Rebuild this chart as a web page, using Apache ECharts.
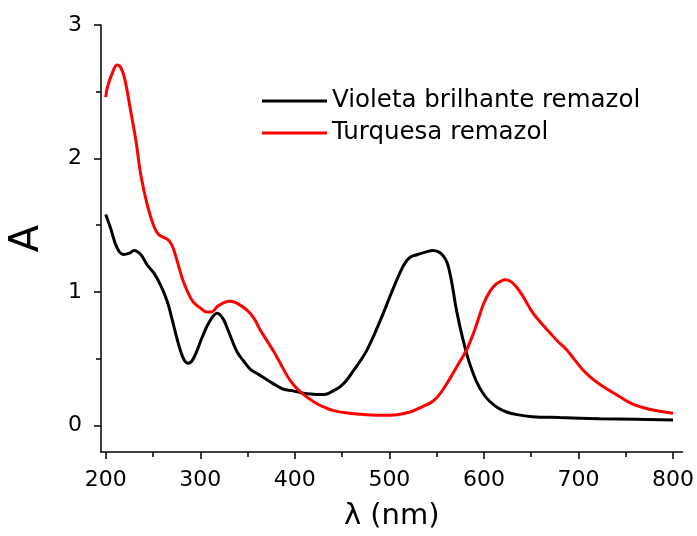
<!DOCTYPE html>
<html><head><meta charset="utf-8">
<script src="https://cdn.jsdelivr.net/npm/echarts@6/dist/echarts.min.js"></script>
<style>html,body{margin:0;padding:0;background:#fff}#c{width:697px;height:536px}</style>
</head><body><div id="c"></div>
<script>
const seriesNames = ['Violeta brilhante remazol', 'Turquesa remazol'];
const violetaX = [200,205,212,219,225,230,237,244,251,258,265,270,275,279,283,287,291,296,302,310,318,324,329,334,339,346,353,362,371,380,388,397,406,416,427,434,441,448,455,462,469,476,484,493,502,511,516,522,530,539,546,552,557,561,564,567,570,574,578,582,587,592,599,606,615,624,635,651,680,722,760,800];
const violetaY = [1.58,1.48,1.33,1.28,1.29,1.31,1.28,1.20,1.14,1.05,0.93,0.80,0.66,0.56,0.49,0.465,0.48,0.55,0.66,0.78,0.84,0.80,0.72,0.63,0.55,0.48,0.42,0.38,0.34,0.30,0.27,0.26,0.245,0.235,0.23,0.235,0.26,0.29,0.34,0.41,0.48,0.56,0.68,0.83,0.99,1.14,1.21,1.26,1.28,1.30,1.31,1.30,1.27,1.22,1.14,1.03,0.90,0.76,0.64,0.53,0.42,0.33,0.24,0.18,0.13,0.10,0.08,0.065,0.058,0.05,0.045,0.04];
const turquesaX = [200,202,207,212,216,220,226,232,237,244,251,256,261,266,270,274,278,282,288,293,300,307,312,318,325,332,340,350,357,363,370,378,385,392,399,406,415,424,433,441,458,475,493,508,522,535,546,555,564,573,582,591,599,606,613,618,622,628,634,641,651,660,669,678,687,695,704,713,722,740,757,775,800];
const turquesaY = [2.46,2.54,2.64,2.70,2.68,2.60,2.37,2.13,1.88,1.65,1.49,1.43,1.41,1.39,1.35,1.27,1.17,1.08,0.98,0.92,0.88,0.85,0.85,0.89,0.92,0.93,0.91,0.86,0.80,0.72,0.64,0.55,0.46,0.37,0.30,0.25,0.20,0.16,0.13,0.11,0.09,0.08,0.075,0.08,0.10,0.14,0.18,0.25,0.35,0.46,0.57,0.73,0.90,1.00,1.06,1.08,1.09,1.08,1.04,0.97,0.85,0.77,0.70,0.63,0.57,0.50,0.42,0.36,0.31,0.23,0.16,0.12,0.09];
const xTicks = [200,300,400,500,600,700,800];
const xMinorTicks = [250,350,450,550,650,750];
const yTicks = [0,1,2,3];
const yMinorTicks = [0.5,1.5,2.5];

const FONT = 'DejaVu Sans';
const chart = echarts.init(document.getElementById('c'), null, {renderer:'canvas'});
const zip = (xs, ys) => xs.map((x,i)=>[x, ys[i]]);
const axisLineStyle = {show:true, onZero:false, lineStyle:{color:'#000', width:1.5}};
chart.setOption({
  animation:false,
  backgroundColor:'#fff',
  grid:{left:100, right:13, top:25, bottom:83, containLabel:false},
  legend:{
    orient:'vertical', left:257, top:82, itemGap:4, itemWidth:65, itemHeight:3,
    icon:'rect',
    textStyle:{fontFamily:FONT, fontSize:24.5, color:'#000', padding:[0,0,0,0], lineHeight:28},
    data:seriesNames
  },
  xAxis:[{
    type:'value', min:195, max:810,
    name:'λ (nm)', nameLocation:'middle', nameGap:50,
    nameTextStyle:{fontFamily:FONT, fontSize:29, color:'#000'},
    axisLine:axisLineStyle,
    axisTick:{show:true, inside:false, length:7, lineStyle:{color:'#000', width:1.5}, customValues:xTicks},
    axisLabel:{show:true, margin:17, fontFamily:FONT, fontSize:22, color:'#000', customValues:xTicks},
    splitLine:{show:false}
  },{
    type:'value', min:195, max:810, position:'bottom',
    axisLine:{show:false, onZero:false},
    axisTick:{show:true, length:5, lineStyle:{color:'#000', width:1.5}, customValues:xMinorTicks},
    axisLabel:{show:false}, splitLine:{show:false}
  }],
  yAxis:[{
    type:'value', min:-0.2, max:3,
    name:'A', nameLocation:'middle', nameGap:53, nameRotate:90,
    nameTextStyle:{fontFamily:FONT, fontSize:40, color:'#000'},
    axisLine:axisLineStyle,
    axisTick:{show:true, length:7, lineStyle:{color:'#000', width:1.5}, customValues:yTicks},
    axisLabel:{show:true, margin:19, fontFamily:FONT, fontSize:22, color:'#000', customValues:yTicks},
    splitLine:{show:false}
  },{
    type:'value', min:-0.2, max:3, position:'left',
    axisLine:{show:false, onZero:false},
    axisTick:{show:true, length:5, lineStyle:{color:'#000', width:1.5}, customValues:yMinorTicks},
    axisLabel:{show:false}, splitLine:{show:false}
  }],
  series:[{
    name:seriesNames[0], type:'line', data:zip(violetaX, violetaY),
    showSymbol:false, smooth:0.4, color:'#000',
    lineStyle:{color:'#000', width:3}
  },{
    name:seriesNames[1], type:'line', data:zip(turquesaX, turquesaY),
    showSymbol:false, smooth:0.4, color:'#ff0000',
    lineStyle:{color:'#ff0000', width:3}
  }]
});
</script></body></html>
